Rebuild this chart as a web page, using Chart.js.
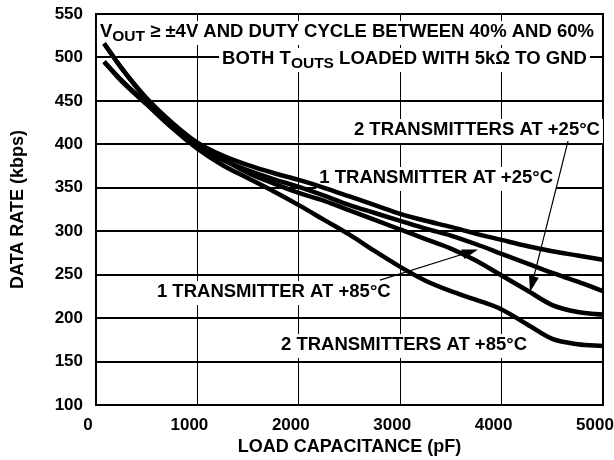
<!DOCTYPE html>
<html>
<head>
<meta charset="utf-8">
<title>Data Rate vs Load Capacitance</title>
<script src="https://cdn.jsdelivr.net/npm/chart.js@4"></script>
<style>
  body { margin: 0; background: #fff; }
  #wrap { width: 614px; height: 460px; }
</style>
</head>
<body>
<div id="wrap"><canvas id="chart" width="614" height="460"></canvas></div>
<script>
// data rate vs load capacitance

const loadPf = [80, 250, 500, 750, 1000, 1250, 1500, 1750, 2000, 2250, 2500, 2750, 3000, 3250, 3500, 3750, 4000, 4250, 4500, 4750, 5000];

const oneTx25 = [516, 488, 453, 425, 402, 387, 376, 367, 359, 350, 340, 330, 320, 312, 305, 297, 290, 283, 277, 272, 267];
const oneTx85 = [495, 474, 447, 421, 398, 382, 370, 360, 351, 341, 330, 321, 312, 303, 295, 285, 274, 263, 252, 242, 231];
const twoTx25 = [516, 488, 452, 424, 400, 383, 367, 355, 344, 335, 324, 313, 302, 291, 280, 266, 249, 232, 215, 207, 204];
const twoTx85 = [495, 473, 446, 419, 395, 376, 361, 346, 330, 313, 296, 277, 259, 243, 231, 221, 210, 193, 176, 170, 168];

const xTicks = [0, 1000, 2000, 3000, 4000, 5000];
const yTicks = [100, 150, 200, 250, 300, 350, 400, 450, 500, 550];

const FONT = '"Liberation Sans", Arial, sans-serif';
const noteFont = 'bold 18.5px ' + FONT;
const subFont = 'bold 15.5px ' + FONT;

// text notes, placed in data units
const notes = [
    { runs: [['V'], ['OUT', true], [' \u2265 \u00b14V AND DUTY CYCLE BETWEEN 40% AND 60%']], x: 39, y: 523.5, align: 'left' },
    { runs: [['BOTH T'], ['OUTS', true], [' LOADED WITH 5k\u03a9 TO GND']], x: 1243, y: 492.4, align: 'left' },
    { runs: [['2 TRANSMITTERS AT +25\u00b0C']], x: 4970, y: 410.7, align: 'right' },
    { runs: [['1 TRANSMITTER AT +25\u00b0C']], x: 4507, y: 355.5, align: 'right' },
    { runs: [['1 TRANSMITTER AT +85\u00b0C']], x: 601, y: 224.3, align: 'left' },
    { runs: [['2 TRANSMITTERS AT +85\u00b0C']], x: 1824, y: 163.3, align: 'left' }
];

const arrows = [
    { from: [4655, 403.8], to: [4280, 230] },
    { from: [2801, 243.8], to: [3767, 279] }
];

function toPoints(values) {
    return values.map((v, i) => ({ x: loadPf[i], y: v }));
}

function drawNote(ctx, note, xs, ys) {
    let width = 0;
    note.runs.forEach(r => {
        ctx.font = r[1] ? subFont : noteFont;
        width += ctx.measureText(r[0]).width;
    });
    const px = xs.getPixelForValue(note.x);
    const py = ys.getPixelForValue(note.y);
    let left = px;
    if (note.align === 'right') left = px - width;

    ctx.fillStyle = '#fff';
    ctx.fillRect(left - 3, py - 16, width + 6, 24);

    ctx.fillStyle = '#000';
    ctx.textBaseline = 'alphabetic';
    ctx.textAlign = 'left';
    let cx = left;
    note.runs.forEach(r => {
        ctx.font = r[1] ? subFont : noteFont;
        ctx.fillText(r[0], cx, r[1] ? py + 4 : py);
        cx += ctx.measureText(r[0]).width;
    });
}

function drawArrow(ctx, arrow, xs, ys) {
    const x1 = xs.getPixelForValue(arrow.from[0]);
    const y1 = ys.getPixelForValue(arrow.from[1]);
    const x2 = xs.getPixelForValue(arrow.to[0]);
    const y2 = ys.getPixelForValue(arrow.to[1]);
    const ang = Math.atan2(y2 - y1, x2 - x1);
    const len = 16, half = 5;

    ctx.strokeStyle = '#000';
    ctx.lineWidth = 1.2;
    ctx.beginPath();
    ctx.moveTo(x1, y1);
    ctx.lineTo(x2 - Math.cos(ang) * len * 0.8, y2 - Math.sin(ang) * len * 0.8);
    ctx.stroke();

    ctx.fillStyle = '#000';
    ctx.beginPath();
    ctx.moveTo(x2, y2);
    ctx.lineTo(x2 - Math.cos(ang) * len - Math.sin(ang) * half, y2 - Math.sin(ang) * len + Math.cos(ang) * half);
    ctx.lineTo(x2 - Math.cos(ang) * len + Math.sin(ang) * half, y2 - Math.sin(ang) * len - Math.cos(ang) * half);
    ctx.closePath();
    ctx.fill();
}

const notesPlugin = {
    id: 'notes',
    beforeDatasetsDraw(chart) {
        const { ctx, chartArea: a, scales } = chart;
        ctx.save();
        ctx.strokeStyle = '#000';
        ctx.lineWidth = 2;
        ctx.strokeRect(a.left, a.top, a.right - a.left, a.bottom - a.top);
        notes.forEach(n => drawNote(ctx, n, scales.x, scales.y));
        ctx.restore();
    },
    afterDatasetsDraw(chart) {
        const { ctx, scales } = chart;
        ctx.save();
        arrows.forEach(a => drawArrow(ctx, a, scales.x, scales.y));
        ctx.restore();
    }
};

const seriesList = [
    { label: '1 TRANSMITTER AT +25°C', data: oneTx25 },
    { label: '1 TRANSMITTER AT +85°C', data: oneTx85 },
    { label: '2 TRANSMITTERS AT +25°C', data: twoTx25 },
    { label: '2 TRANSMITTERS AT +85°C', data: twoTx85 }
];

new Chart(document.getElementById('chart'), {
    type: 'line',
    data: {
        datasets: seriesList.map(s => ({
            label: s.label,
            data: toPoints(s.data),
            borderColor: '#000',
            borderWidth: 4.5,
            pointRadius: 0,
            fill: false,
            cubicInterpolationMode: 'monotone',
            borderCapStyle: 'butt'
        }))
    },
    options: {
        responsive: false,
        animation: false,
        devicePixelRatio: 1,
        layout: { padding: { top: 14, right: 11, left: 0, bottom: 0 } },
        plugins: {
            legend: { display: false },
            tooltip: { enabled: false }
        },
        scales: {
            x: {
                type: 'linear',
                min: 0,
                max: 5000,
                afterBuildTicks: s => { s.ticks = xTicks.map(v => ({ value: v })); },
                afterFit: s => { s.height = 55; s.paddingLeft = 0; s.paddingRight = 0; },
                grid: { color: '#000', lineWidth: 1, drawTicks: false },
                border: { display: false },
                ticks: {
                    color: '#000',
                    font: { family: FONT, size: 17, weight: 'bold' },
                    padding: 10,
                    labelOffset: -8,
                    maxRotation: 0,
                    callback: v => String(v)
                },
                title: {
                    display: true,
                    text: 'LOAD CAPACITANCE (pF)',
                    color: '#000',
                    font: { family: FONT, size: 18, weight: 'bold' },
                    padding: { top: 0, bottom: 2 }
                }
            },
            y: {
                min: 100,
                max: 550,
                afterBuildTicks: s => { s.ticks = yTicks.map(v => ({ value: v })); },
                afterFit: s => { s.width = 96; s.paddingTop = 0; s.paddingBottom = 0; },
                grid: { color: '#000', lineWidth: 2, drawTicks: false },
                border: { display: false },
                ticks: {
                    color: '#000',
                    font: { family: FONT, size: 17, weight: 'bold' },
                    padding: 13,
                    callback: v => String(v)
                },
                title: {
                    display: true,
                    text: 'DATA RATE (kbps)',
                    color: '#000',
                    font: { family: FONT, size: 18, weight: 'bold' },
                    padding: { top: 7, bottom: 0 }
                }
            }
        }
    },
    plugins: [notesPlugin]
});
</script>
</body>
</html>
